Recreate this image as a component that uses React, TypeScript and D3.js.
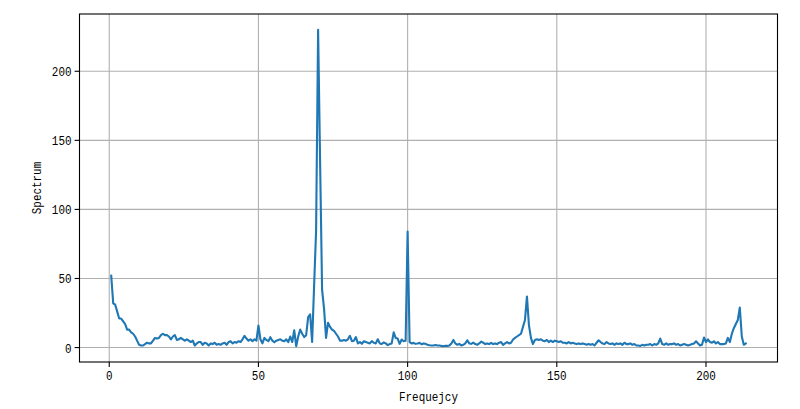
import React from 'react';
import * as d3 from 'd3';

// Frequency step (Hz) between spectrum bins
const FREQ_STEP = 2 / 3;

// Spectrum magnitudes, 15 bins (10 Hz) per row, starting at 0.67 Hz
const spectrum: number[] = [
  52, 32, 31, 26, 21, 21, 19, 17, 13, 13, 11, 10, 8, 5, 2,
  1.5, 1.5, 2.5, 3.5, 3, 3, 5, 7, 6.5, 7, 9, 10, 9, 9, 8,
  6, 8, 9, 5.5, 6, 7, 6, 5, 6, 5, 4, 5, 1.5, 3, 4,
  4, 2, 3.5, 3, 1.5, 3, 2.5, 3.5, 2, 2.5, 2, 3, 3.5, 2, 4,
  4.6, 3, 4, 3.5, 4.6, 4, 6, 8.5, 6.5, 5, 6, 4.6, 6, 5, 16,
  6, 3, 7, 5.5, 4.6, 7.5, 5, 3.8, 5, 5.5, 6, 5, 4.6, 6, 4,
  8, 4, 12.5, 1, 8, 13, 10, 7.6, 9, 22, 24, 4, 45, 85, 230,
  135, 42, 28, 7, 18, 15, 13, 12, 10, 8, 5, 5, 5.5, 5, 6,
  8.5, 4.6, 5, 7.6, 3, 4, 2.7, 4.6, 4, 3.5, 3, 4.6, 3.5, 3, 6,
  3, 2.6, 3.7, 3, 1.8, 2.5, 3, 11, 7, 6.5, 2.7, 5.8, 4.6, 5, 84,
  4, 3, 3.4, 2.7, 3, 3.4, 2.4, 3, 2.7, 2, 1.7, 1.5, 1.5, 1.8, 1.5,
  1.5, 1.2, 1, 1.3, 1.2, 1.5, 3, 5.5, 3, 2, 2.7, 1.5, 2, 3, 5.3,
  3, 2.7, 3.6, 2.5, 2, 3, 4.3, 3.5, 2.5, 3, 2.5, 3.4, 2.5, 3, 2.5,
  3.5, 4, 2, 3, 4, 3, 3.5, 5.8, 7, 8, 9, 10, 15, 20, 37,
  16, 7, 2.5, 5.5, 6, 5.5, 6, 5, 4.6, 5.5, 4, 5, 4, 5, 4.5,
  4, 4.5, 3.5, 3.5, 3, 4, 3, 3.5, 3, 2.5, 3, 2.5, 3, 2.5, 2,
  2.5, 2, 2.5, 1.5, 3.5, 5.3, 4, 3, 2.5, 4, 3, 2.5, 3, 2, 3,
  2.5, 3, 2, 3.5, 2.5, 2.5, 3, 2, 2.5, 1.5, 1.5, 1.2, 2, 1.5, 2,
  2, 2.5, 1.5, 2.5, 2, 3, 6.5, 2.5, 2, 3, 2, 2.5, 2.5, 3, 2,
  2.5, 1.5, 2, 2.5, 2, 1.5, 2, 2.5, 3, 4.5, 3, 1.5, 2, 7.3, 4,
  6, 4, 3.5, 4.5, 3, 4, 2.5, 2.5, 2.5, 3, 7, 4, 10, 14, 17,
  20, 29, 8, 2, 3,
];

const xTicks = [0, 50, 100, 150, 200];
const yTicks = [0, 50, 100, 150, 200];
const xLabel = 'Frequejcy';
const yLabel = 'Spectrum';

const W = 800;
const H = 409;
const M = { left: 79.5, right: 22.5, top: 14, bottom: 47 };
const FONT = "'Liberation Mono', 'DejaVu Sans Mono', monospace";
const FS = 13;
const SX = 0.84;

function Label(props: { x: number; y: number; anchor: string; text: string | number; rotate?: number }) {
  const { x, y, anchor, text, rotate } = props;
  return (
    <g transform={`translate(${x},${y})${rotate ? ` rotate(${rotate})` : ''} scale(${SX},1)`}>
      <text x={0} y={0} textAnchor={anchor} fontFamily={FONT} fontSize={FS} fill="#000">
        {text}
      </text>
    </g>
  );
}

export default function App() {
  const data = spectrum.map((v, i) => ({ f: (i + 1) * FREQ_STEP, v }));
  const [fx0, fx1] = d3.extent(data, (d) => d.f) as [number, number];
  const [vy0, vy1] = d3.extent(data, (d) => d.v) as [number, number];
  const px = (fx1 - fx0) * 0.05;
  const py = (vy1 - vy0) * 0.05;

  const x = d3.scaleLinear().domain([fx0 - px, fx1 + px]).range([M.left, W - M.right]);
  const y = d3.scaleLinear().domain([vy0 - py, vy1 + py]).range([H - M.bottom, M.top]);

  const line = d3
    .line<{ f: number; v: number }>()
    .x((d) => x(d.f))
    .y((d) => y(d.v));

  const x0 = M.left;
  const x1 = W - M.right;
  const y0 = H - M.bottom;
  const y1 = M.top;

  return (
    <svg width={W} height={H} style={{ position: 'absolute', left: 0, top: 0, background: '#fff' }}>
      <rect x={0} y={0} width={W} height={H} fill="#fff" />
      {xTicks.map((t) => (
        <line key={'gx' + t} x1={x(t)} x2={x(t)} y1={y0} y2={y1} stroke="#b0b0b0" strokeWidth={1.1} />
      ))}
      {yTicks.map((t) => (
        <line key={'gy' + t} x1={x0} x2={x1} y1={y(t)} y2={y(t)} stroke="#b0b0b0" strokeWidth={1.1} />
      ))}
      <path d={line(data) || ''} fill="none" stroke="#1f77b4" strokeWidth={2.1} strokeLinejoin="round" strokeLinecap="square" />
      <rect x={x0} y={y1} width={x1 - x0} height={y0 - y1} fill="none" stroke="#000" strokeWidth={1.1} />
      {xTicks.map((t) => (
        <g key={'xt' + t}>
          <line x1={x(t)} x2={x(t)} y1={y0} y2={y0 + 4.9} stroke="#000" strokeWidth={1.1} />
          <Label x={x(t)} y={y0 + 18} anchor="middle" text={t} />
        </g>
      ))}
      {yTicks.map((t) => (
        <g key={'yt' + t}>
          <line x1={x0 - 4.9} x2={x0} y1={y(t)} y2={y(t)} stroke="#000" strokeWidth={1.1} />
          <Label x={x0 - 8} y={y(t) + 5} anchor="end" text={t} />
        </g>
      ))}
      <Label x={(x0 + x1) / 2} y={401} anchor="middle" text={xLabel} />
      <Label x={41} y={(y0 + y1) / 2} anchor="middle" text={yLabel} rotate={-90} />
    </svg>
  );
}
